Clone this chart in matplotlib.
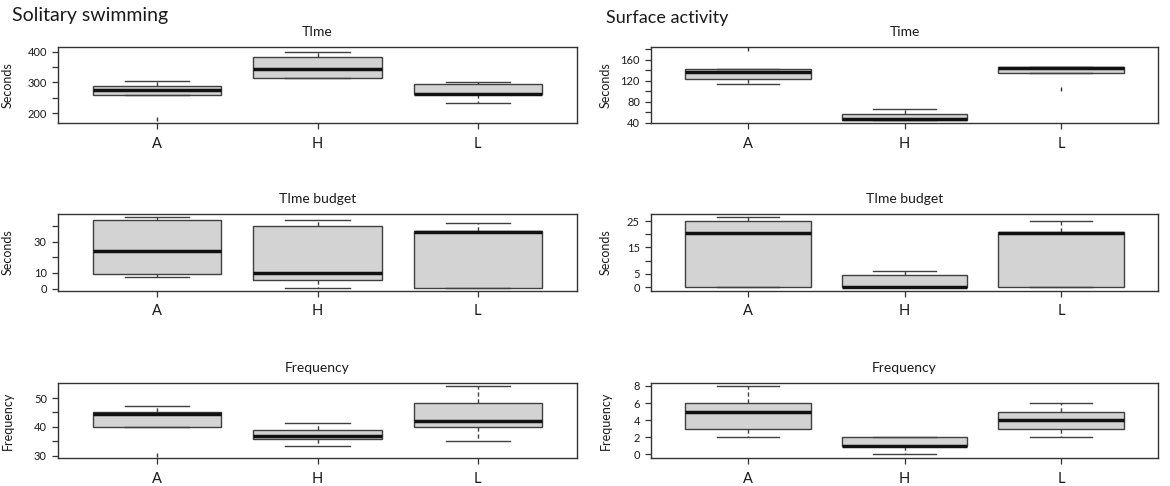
import matplotlib
matplotlib.use('Agg')
import matplotlib.pyplot as plt

plt.rcParams['font.family'] = ['Lato', 'DejaVu Sans']

groups = ['A', 'H', 'L']
positions = [1, 2, 3]

# Solitary swimming - Time (seconds)
swim_time_lo = [258, 313, 233]
swim_time_q1 = [258, 313, 261]
swim_time_med = [276, 345, 262]
swim_time_q3 = [289, 383, 295]
swim_time_hi = [305, 400, 302]
swim_time_out = [[180], [], []]

# Solitary swimming - Time budget (seconds)
swim_budget_lo = [7.3, 0.5, 0.5]
swim_budget_q1 = [9.5, 5.6, 0.5]
swim_budget_med = [23.9, 9.9, 36.0]
swim_budget_q3 = [43.9, 40.0, 36.5]
swim_budget_hi = [45.4, 43.9, 42.1]
swim_budget_out = [[], [], []]

# Solitary swimming - Frequency
swim_freq_lo = [40.0, 33.2, 35.0]
swim_freq_q1 = [40.0, 35.9, 40.0]
swim_freq_med = [44.3, 36.9, 42.1]
swim_freq_q3 = [45.1, 39.0, 48.3]
swim_freq_hi = [47.2, 41.3, 54.2]
swim_freq_out = [[30.3], [], []]

# Surface activity - Time (seconds)
surf_time_lo = [113.6, 45.4, 134.3]
surf_time_q1 = [122.7, 45.4, 134.3]
surf_time_med = [135.5, 46.0, 143.2]
surf_time_q3 = [142.0, 57.0, 145.0]
surf_time_hi = [142.0, 66.7, 146.5]
surf_time_out = [[179.3], [], [104.6]]

# Surface activity - Time budget (seconds)
surf_budget_lo = [0.2, 0.0, 0.2]
surf_budget_q1 = [0.2, 0.0, 0.2]
surf_budget_med = [20.3, 0.2, 20.4]
surf_budget_q3 = [25.0, 4.7, 20.8]
surf_budget_hi = [26.6, 6.2, 25.0]
surf_budget_out = [[], [], []]

# Surface activity - Frequency
surf_freq_lo = [2, 0, 2]
surf_freq_q1 = [3, 1, 3]
surf_freq_med = [5, 1, 4]
surf_freq_q3 = [6, 2, 5]
surf_freq_hi = [8, 2, 6]
surf_freq_out = [[], [], []]


def make_stats(lo, q1, med, q3, hi, out):
    return [dict(whislo=a, q1=b, med=c, q3=d, whishi=e, fliers=f, label=g)
            for a, b, c, d, e, f, g in zip(lo, q1, med, q3, hi, out, groups)]


edge = '#404040'
txt = '#1a1a1a'
fig = plt.figure(figsize=(11.7, 4.86), dpi=100)

W, H = 1170.0, 486.0
left_x, left_w = 58 / W, 519 / W
right_x, right_w = 651 / W, 507 / W
rows = [(123, 76), (290.5, 76), (458, 75)]  # bottom px from top, height px

panels = [
    # column, row, stats, ylim, ticks, tick labels, title, ylabel
    (0, 0, make_stats(swim_time_lo, swim_time_q1, swim_time_med, swim_time_q3, swim_time_hi, swim_time_out),
     (168, 415), [200, 250, 300, 350, 400], ['200', '', '300', '', '400'], 'TIme', 'Seconds'),
    (0, 1, make_stats(swim_budget_lo, swim_budget_q1, swim_budget_med, swim_budget_q3, swim_budget_hi, swim_budget_out),
     (-1.2, 47.2), [0, 10, 20, 30, 40], ['0', '10', '', '30', ''], 'TIme budget', 'Seconds'),
    (0, 2, make_stats(swim_freq_lo, swim_freq_q1, swim_freq_med, swim_freq_q3, swim_freq_hi, swim_freq_out),
     (29.2, 55.2), [30, 35, 40, 45, 50], ['30', '', '40', '', '50'], 'Frequency', 'Frequency'),
    (1, 0, make_stats(surf_time_lo, surf_time_q1, surf_time_med, surf_time_q3, surf_time_hi, surf_time_out),
     (39.2, 183.8), [40, 60, 80, 100, 120, 140, 160, 180], ['40', '', '80', '', '120', '', '160', ''], 'Time', 'Seconds'),
    (1, 1, make_stats(surf_budget_lo, surf_budget_q1, surf_budget_med, surf_budget_q3, surf_budget_hi, surf_budget_out),
     (-1.3, 27.5), [0, 5, 10, 15, 20, 25], ['0', '5', '', '15', '', '25'], 'TIme budget', 'Seconds'),
    (1, 2, make_stats(surf_freq_lo, surf_freq_q1, surf_freq_med, surf_freq_q3, surf_freq_hi, surf_freq_out),
     (-0.45, 8.35), [0, 2, 4, 6, 8], ['0', '2', '4', '6', '8'], 'Frequency', 'Frequency'),
]

for col, row, stats, ylim, ticks, tlabels, title, ylabel in panels:
    x0, w = (left_x, left_w) if col == 0 else (right_x, right_w)
    bottom_px, h_px = rows[row]
    ax = fig.add_axes([x0, (H - bottom_px) / H, w, h_px / H])
    ax.bxp(stats, positions=positions, widths=0.8, capwidths=0.4,
           patch_artist=True, showfliers=True,
           boxprops=dict(facecolor='#d3d3d3', edgecolor=edge, linewidth=1.0),
           medianprops=dict(color='#111111', linewidth=2.5),
           whiskerprops=dict(color=edge, linewidth=1.0, linestyle=(0, (3, 2))),
           capprops=dict(color=edge, linewidth=1.0),
           flierprops=dict(marker='|', markersize=3, markeredgecolor='#333333',
                           markeredgewidth=1, linestyle='none'))
    ax.set_xlim(0.38, 3.62)
    ax.set_ylim(*ylim)
    ax.set_yticks(ticks)
    ax.set_yticklabels(tlabels, fontsize=8, color=txt)
    ax.set_xticks(positions)
    ax.set_xticklabels(groups, fontsize=10.5, color=txt)
    ax.tick_params(axis='both', length=4, width=0.9, color='#333333', pad=4)
    ax.tick_params(axis='x', pad=6)
    for sp in ax.spines.values():
        sp.set_linewidth(1.0)
        sp.set_color('#333333')
    ax.set_title(title, fontsize=10, pad=8, color=txt)
    ax.set_ylabel(ylabel, fontsize=9, color=txt)
    ax.yaxis.set_label_coords(-0.085 if col == 0 else -0.077, 0.5)

fig.text(12 / W, 1 - 16 / H, 'Solitary swimming', fontsize=14, va='center', ha='left', color=txt)
fig.text(606 / W, 1 - 18 / H, 'Surface activity', fontsize=13, va='center', ha='left', color=txt)

fig.savefig('out.png', dpi=100)
